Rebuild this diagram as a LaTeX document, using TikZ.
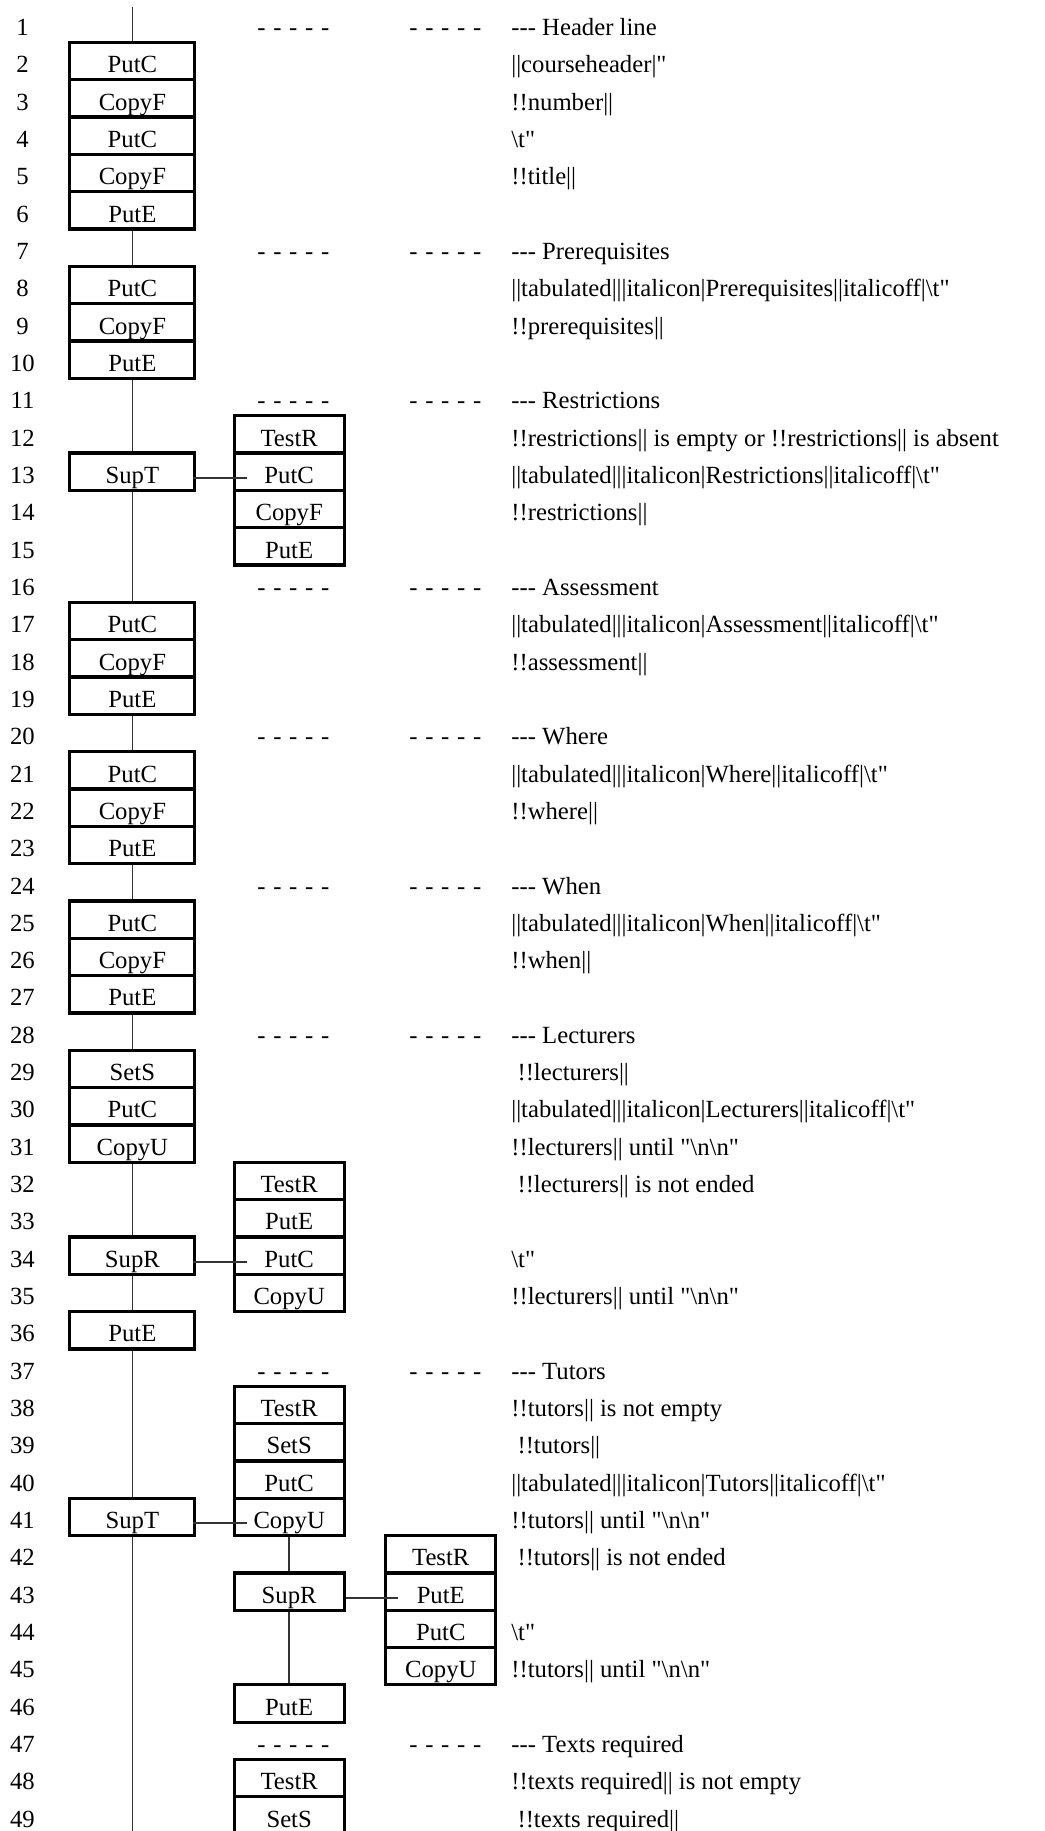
\documentclass[tikz,border=0pt]{standalone}
\usepackage{fontspec}
\setmainfont{Liberation Serif}[Ligatures=TeXOff]
\usetikzlibrary{positioning, calc}

\newcommand{\bsl}{\textbackslash}

\begin{document}
\begin{tikzpicture}[
  x=0.5pt, y=-18.667pt,
  every node/.style={font=\fontsize{12.35pt}{14pt}\selectfont, inner sep=0pt},
  opbox/.style={draw, line width=1.6pt, anchor=base, text height=15.2pt, text depth=3.467pt, minimum width=62.5pt},
  subbox/.style={opbox, minimum width=55pt},
  lineno/.style={anchor=base},
  gapmark/.style={anchor=base west, execute at begin node={\spaceskip=3.85pt\relax}},
  note/.style={anchor=base west},
  link/.style={line width=0.8pt, black!80}
]
\useasboundingbox (0,0.0525) rectangle (1045,49.10);

\foreach \r in {1,...,49}
  \node[lineno] (n\r) at (22.5,\r) {\r};

\foreach \r in {1,7,11,16,20,24,28,37,47} {
  \node[gapmark] (da\r) at (257,\r) {- - - - -};
  \node[gapmark] (db\r) at (409,\r) {- - - - -};
}

% main column
\node[opbox] (a2) at (132.4,2) {PutC};
\node[opbox] (a3) at (132.4,3) {CopyF};
\node[opbox] (a4) at (132.4,4) {PutC};
\node[opbox] (a5) at (132.4,5) {CopyF};
\node[opbox] (a6) at (132.4,6) {PutE};
\node[opbox] (a8) at (132.4,8) {PutC};
\node[opbox] (a9) at (132.4,9) {CopyF};
\node[opbox] (a10) at (132.4,10) {PutE};
\node[opbox] (a13) at (132.4,13) {SupT};
\node[opbox] (a17) at (132.4,17) {PutC};
\node[opbox] (a18) at (132.4,18) {CopyF};
\node[opbox] (a19) at (132.4,19) {PutE};
\node[opbox] (a21) at (132.4,21) {PutC};
\node[opbox] (a22) at (132.4,22) {CopyF};
\node[opbox] (a23) at (132.4,23) {PutE};
\node[opbox] (a25) at (132.4,25) {PutC};
\node[opbox] (a26) at (132.4,26) {CopyF};
\node[opbox] (a27) at (132.4,27) {PutE};
\node[opbox] (a29) at (132.4,29) {SetS};
\node[opbox] (a30) at (132.4,30) {PutC};
\node[opbox] (a31) at (132.4,31) {CopyU};
\node[opbox] (a34) at (132.4,34) {SupR};
\node[opbox] (a36) at (132.4,36) {PutE};
\node[opbox] (a41) at (132.4,41) {SupT};

% second column
\node[subbox] (b12) at (289.2,12) {TestR};
\node[subbox] (b13) at (289.2,13) {PutC};
\node[subbox] (b14) at (289.2,14) {CopyF};
\node[subbox] (b15) at (289.2,15) {PutE};
\node[subbox] (b32) at (289.2,32) {TestR};
\node[subbox] (b33) at (289.2,33) {PutE};
\node[subbox] (b34) at (289.2,34) {PutC};
\node[subbox] (b35) at (289.2,35) {CopyU};
\node[subbox] (b38) at (289.2,38) {TestR};
\node[subbox] (b39) at (289.2,39) {SetS};
\node[subbox] (b40) at (289.2,40) {PutC};
\node[subbox] (b41) at (289.2,41) {CopyU};
\node[subbox] (b43) at (289.2,43) {SupR};
\node[subbox] (b46) at (289.2,46) {PutE};
\node[subbox] (b48) at (289.2,48) {TestR};
\node[subbox] (b49) at (289.2,49) {SetS};

% third column
\node[subbox] (c42) at (440.8,42) {TestR};
\node[subbox] (c43) at (440.8,43) {PutE};
\node[subbox] (c44) at (440.8,44) {PutC};
\node[subbox] (c45) at (440.8,45) {CopyU};

% texts
\node[note] (t1) at (511,1) {--- Header line};
\node[note] (t2) at (511,2) {||courseheader|"};
\node[note] (t3) at (511,3) {!!number||};
\node[note] (t4) at (511,4) {\bsl t"};
\node[note] (t5) at (511,5) {!!title||};
\node[note] (t7) at (511,7) {--- Prerequisites};
\node[note] (t8) at (511,8) {||tabulated|||italicon|Prerequisites||italicoff|\bsl t"};
\node[note] (t9) at (511,9) {!!prerequisites||};
\node[note] (t11) at (511,11) {--- Restrictions};
\node[note] (t12) at (511,12) {!!restrictions|| is empty or !!restrictions|| is absent};
\node[note] (t13) at (511,13) {||tabulated|||italicon|Restrictions||italicoff|\bsl t"};
\node[note] (t14) at (511,14) {!!restrictions||};
\node[note] (t16) at (511,16) {--- Assessment};
\node[note] (t17) at (511,17) {||tabulated|||italicon|Assessment||italicoff|\bsl t"};
\node[note] (t18) at (511,18) {!!assessment||};
\node[note] (t20) at (511,20) {--- Where};
\node[note] (t21) at (511,21) {||tabulated|||italicon|Where||italicoff|\bsl t"};
\node[note] (t22) at (511,22) {!!where||};
\node[note] (t24) at (511,24) {--- When};
\node[note] (t25) at (511,25) {||tabulated|||italicon|When||italicoff|\bsl t"};
\node[note] (t26) at (511,26) {!!when||};
\node[note] (t28) at (511,28) {--- Lecturers};
\node[note] (t29) at (511,29) {\ !!lecturers||};
\node[note] (t30) at (511,30) {||tabulated|||italicon|Lecturers||italicoff|\bsl t"};
\node[note] (t31) at (511,31) {!!lecturers|| until "\bsl n\bsl n"};
\node[note] (t32) at (511,32) {\ !!lecturers|| is not ended};
\node[note] (t34) at (511,34) {\bsl t"};
\node[note] (t35) at (511,35) {!!lecturers|| until "\bsl n\bsl n"};
\node[note] (t37) at (511,37) {--- Tutors};
\node[note] (t38) at (511,38) {!!tutors|| is not empty};
\node[note] (t39) at (511,39) {\ !!tutors||};
\node[note] (t40) at (511,40) {||tabulated|||italicon|Tutors||italicoff|\bsl t"};
\node[note] (t41) at (511,41) {!!tutors|| until "\bsl n\bsl n"};
\node[note] (t42) at (511,42) {\ !!tutors|| is not ended};
\node[note] (t44) at (511,44) {\bsl t"};
\node[note] (t45) at (511,45) {!!tutors|| until "\bsl n\bsl n"};
\node[note] (t47) at (511,47) {--- Texts required};
\node[note] (t48) at (511,48) {!!texts required|| is not empty};
\node[note] (t49) at (511,49) {\ !!texts required||};

% connectors
\coordinate (top) at (132.4,0.232);
\coordinate (bot) at (132.4,49.3);
\draw[link] (top) -- (a2);
\draw[link] (a6) -- (a8);
\draw[link] (a10) -- (a13);
\draw[link] (a13) -- (a17);
\draw[link] (a19) -- (a21);
\draw[link] (a23) -- (a25);
\draw[link] (a27) -- (a29);
\draw[link] (a31) -- (a34);
\draw[link] (a34) -- (a36);
\draw[link] (a36) -- (a41);
\draw[link] (a41) -- (bot);
\draw[link] (b41) -- (b43);
\draw[link] (b43) -- (b46);
\draw[link] ([shift={(-1.5pt,2.8pt)}]a13.base east) -- ([shift={(7pt,2.8pt)}]b13.base west);
\draw[link] ([shift={(-1.5pt,2.8pt)}]a34.base east) -- ([shift={(7pt,2.8pt)}]b34.base west);
\draw[link] ([shift={(-1.5pt,2.8pt)}]a41.base east) -- ([shift={(7pt,2.8pt)}]b41.base west);
\draw[link] ([yshift=2.8pt]b43.base east) -- ([shift={(7pt,2.8pt)}]c43.base west);
\end{tikzpicture}
\end{document}
